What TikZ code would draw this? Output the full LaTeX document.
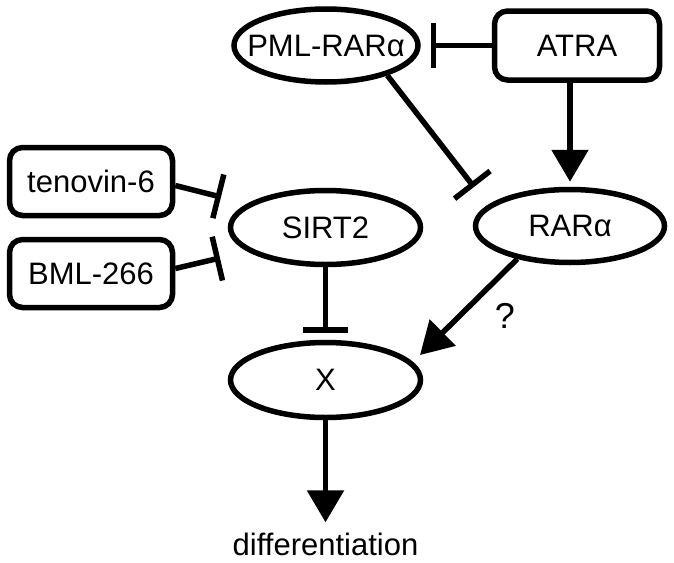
\documentclass[tikz,border=0pt]{standalone}
\usepackage{fontspec}
\setmainfont{Liberation Sans}
\usetikzlibrary{shapes.geometric,arrows.meta}
\newcommand\labfont{\fontsize{31}{36}\selectfont}
\newcommand\zw[1]{\makebox[0pt]{#1}}
\tikzset{
  lw/.style={line width=5.5pt},
  ell/.style={ellipse, draw, lw, inner sep=0pt, font=\labfont},
  rbox/.style={rectangle, rounded corners=13pt, draw, lw, inner sep=0pt,
    minimum width=163pt, minimum height=68pt, font=\labfont},
  act/.style={lw, -{Triangle[length=32pt,width=36pt]}},
  inh/.style={lw, -{Bar[width=45pt]}}
}
\begin{document}
\begin{tikzpicture}[x=1pt,y=-1pt]
\useasboundingbox (0,0) rectangle (674,562);
% nodes
\node[ell, minimum width=184pt, minimum height=73pt] (pml) at (326,45.5) {\zw{PML-RARα}};
\node[rbox, minimum width=165pt, minimum height=69pt] (atra) at (577,45.5) {ATRA};
\node[ell, minimum width=189pt, minimum height=73pt] (rar) at (570,226) {\zw{RARα}};
\node[ell, minimum width=190pt, minimum height=74pt] (sirt) at (325.5,227.5) {\zw{SIRT2}};
\node[ell, minimum width=190pt, minimum height=75pt] (x) at (325.5,380) {\zw{X}};
\node[rbox] (ten) at (91,181.5) {tenovin-6};
\node[rbox] (bml) at (91,273.5) {BML-266};
\node[font=\labfont, anchor=base, inner sep=0pt] (diff) at (325.5,555) {differentiation};
\node[font=\fontsize{36}{40}\selectfont, inner sep=0pt] (q) at (505,315.5) {?};
% free ends
\coordinate (pmlbar) at (474,187);
\coordinate (tbar) at (221,197);
\coordinate (bbar) at (220,258);
\coordinate (xtip) at (420,355);
% connectors
\draw[inh, shorten >=10pt] (atra) -- (pml);
\draw[act, shorten >=5pt] (atra.south -| rar.north) -- (rar.north);
\draw[inh] (pml.-26) -- (pmlbar);
\draw[inh] ([yshift=-4pt]ten.east) -- (tbar);
\draw[inh] ([yshift=5pt]bml.east) -- (bbar);
\draw[inh, shorten >=7pt] (sirt) -- (x);
\draw[act] (rar.212) -- (xtip);
\draw[act, shorten >=10pt] (x) -- (diff);
\end{tikzpicture}
\end{document}
